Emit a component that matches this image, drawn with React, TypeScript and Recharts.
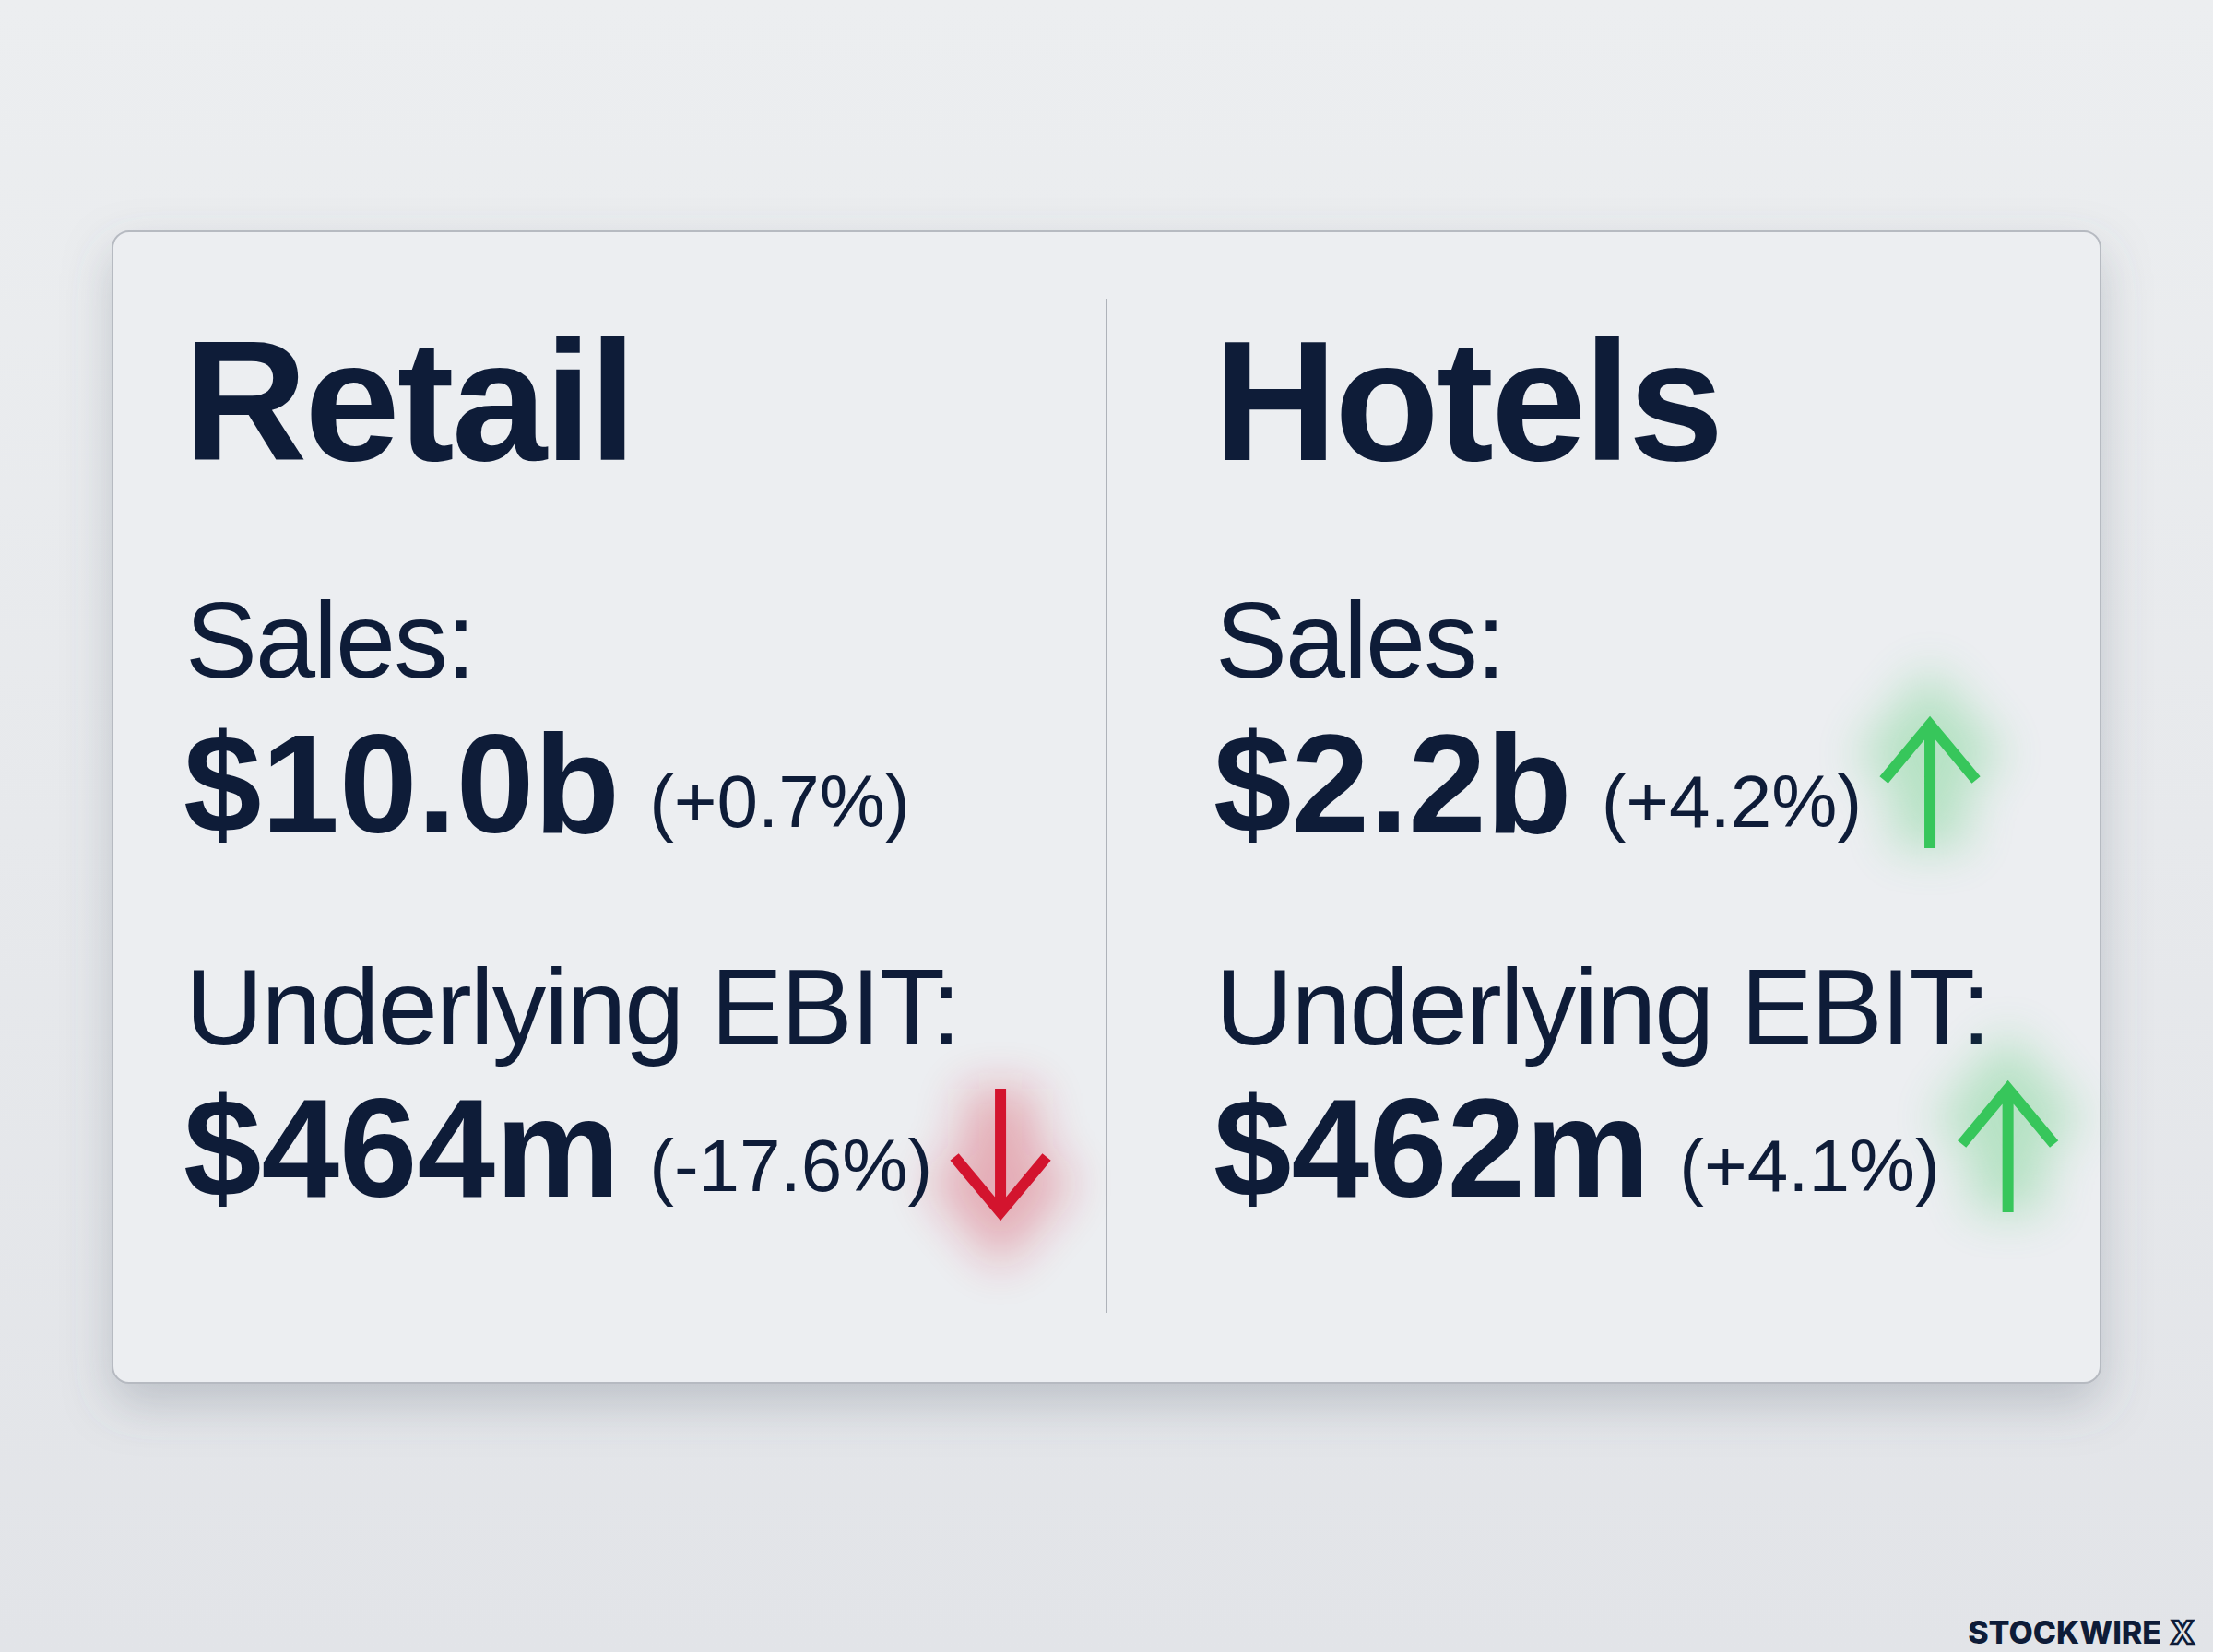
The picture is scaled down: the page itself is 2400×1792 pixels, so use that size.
import { useLayoutEffect, useRef, useState } from "react";
import { Surface, Layer, Rectangle, Text } from "recharts";

// segment results
const segments = ["Retail", "Hotels"];
const metricLabels = ["Sales:", "Underlying EBIT:"];
const retailValues = ["$10.0b", "$464m"];
const retailChanges = ["(+0.7%)", "(-17.6%)"];
const retailTrend = ["flat", "down"];
const hotelsValues = ["$2.2b", "$462m"];
const hotelsChanges = ["(+4.2%)", "(+4.1%)"];
const hotelsTrend = ["up", "up"];
const brand = "STOCKWIRE";

const W = 2400;
const H = 1792;
const FONT = "'Liberation Sans', Arial, Helvetica, sans-serif";
const INK = "#0e1c38";
const RED = "#d3142e";
const GREEN = "#37c65b";

const CARD = { x: 122, y: 251, w: 2156, h: 1249 };
const PANEL_X = [199, 1316];
const DIVIDER_X = 1200;
const TITLE_Y = 499;
const LABEL_Y = [735, 1133];
const VALUE_Y = [903, 1298];

type ArrowProps = { cx: number; cy: number; dir: string };

function Arrow({ cx, cy, dir }: ArrowProps) {
  const s = dir === "up" ? -1 : 1;
  const color = dir === "up" ? GREEN : RED;
  const tipY = cy + s * 67;
  const tailY = cy - s * 67;
  const wingY = tipY - s * 60;
  const d = `M${cx},${tailY} L${cx},${tipY} M${cx - 50},${wingY} L${cx},${tipY} L${cx + 50},${wingY}`;
  return (
    <Layer>
      <path d={d} stroke={color} strokeWidth={80} fill="none" opacity={0.3} filter="url(#glow)" />
      <path d={d} stroke={color} strokeWidth={12} fill="none" strokeLinejoin="miter" />
    </Layer>
  );
}

type ValueLineProps = { x: number; y: number; value: string; change: string; trend: string };

function ValueLine({ x, y, value, change, trend }: ValueLineProps) {
  const ref = useRef<SVGTextElement>(null);
  const [end, setEnd] = useState<number | null>(null);

  useLayoutEffect(() => {
    if (ref.current) {
      const b = ref.current.getBBox();
      setEnd(b.x + b.width);
    }
  }, [value, change]);

  return (
    <Layer>
      {trend !== "flat" && end !== null && <Arrow cx={end + 74} cy={y - 50} dir={trend} />}
      <text ref={ref} x={x} y={y} fill={INK} fontFamily={FONT}>
        <tspan fontSize={152} fontWeight={700}>{value}</tspan>
        <tspan dx={32} dy={-6} fontSize={80} fontWeight={400}>{change}</tspan>
      </text>
    </Layer>
  );
}

function Panel({ idx, values, changes, trend }: { idx: number; values: string[]; changes: string[]; trend: string[] }) {
  const x = PANEL_X[idx];
  return (
    <Layer>
      <Text x={x} y={TITLE_Y} fontSize={186} fontWeight={700} fontFamily={FONT} fill={INK} letterSpacing={-3}>
        {segments[idx]}
      </Text>
      {metricLabels.map((label, i) => (
        <Layer key={label}>
          <Text x={x + 2} y={LABEL_Y[i]} fontSize={117} fontFamily={FONT} fill={INK} letterSpacing={-2}>
            {label}
          </Text>
          <ValueLine x={x} y={VALUE_Y[i]} value={values[i]} change={changes[i]} trend={trend[i]} />
        </Layer>
      ))}
    </Layer>
  );
}

export default function App() {
  return (
    <div style={{ position: "absolute", left: 0, top: 0, width: W, height: H }}>
      <Surface width={W} height={H}>
        <defs>
          <linearGradient id="bg" x1="0" y1="0" x2="0" y2="1">
            <stop offset="0%" stopColor="#eceef0" />
            <stop offset="100%" stopColor="#e2e4e8" />
          </linearGradient>
          <filter id="shadow" x="-10%" y="-10%" width="120%" height="130%">
            <feDropShadow dx="0" dy="22" stdDeviation="26" floodColor="#5a6272" floodOpacity="0.28" />
          </filter>
          <filter id="glow" x="-150%" y="-150%" width="400%" height="400%">
            <feGaussianBlur stdDeviation="26" />
          </filter>
        </defs>
        <rect x={0} y={0} width={W} height={H} fill="url(#bg)" />
        <Rectangle
          x={CARD.x}
          y={CARD.y}
          width={CARD.w}
          height={CARD.h}
          radius={18}
          fill="#eceef1"
          stroke="#b6bac1"
          strokeWidth={2}
          filter="url(#shadow)"
        />
        <line x1={DIVIDER_X} y1={324} x2={DIVIDER_X} y2={1424} stroke="#aeb2b9" strokeWidth={2} />
        <Panel idx={0} values={retailValues} changes={retailChanges} trend={retailTrend} />
        <Panel idx={1} values={hotelsValues} changes={hotelsChanges} trend={hotelsTrend} />
        <text x={2380} y={1783} textAnchor="end" fontFamily="Inter, sans-serif" fontWeight={800} fontSize={34} fill={INK}>
          {brand}
          <tspan dx={10} fill="none" stroke={INK} strokeWidth={2.5}>X</tspan>
        </text>
      </Surface>
    </div>
  );
}
